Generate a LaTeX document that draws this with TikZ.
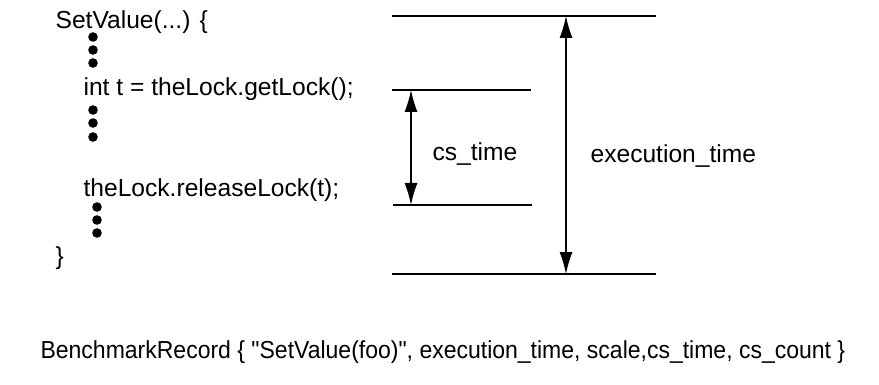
\documentclass[tikz,border=0pt]{standalone}
\usepackage{fontspec}
\setmainfont{Liberation Sans}
\usetikzlibrary{arrows.meta}
\tikzset{>={Latex[length=22pt,width=13pt]}}
\tikzset{code/.style={anchor=west,inner sep=0pt,font=\fontsize{24.6}{28}\selectfont}}

\begin{document}
\begin{tikzpicture}[x=1pt,y=-1pt,line width=1.2pt]
  \useasboundingbox (0,0) rectangle (879,385);
  % code lines
  \node[code] (setv) at (55,22) {SetValue(...) \{};
  \node[code] (getl) at (83,89) {int t = theLock.getLock();};
  \node[code] (rell) at (83,190) {theLock.releaseLock(t);};
  \node[code] (close) at (55,258) {\}};
  % dots
  \fill (93,37) circle (4.8) (93,50) circle (4.8) (93,63) circle (4.8);
  \fill (93,110) circle (4.8) (93,123) circle (4.8) (93,137) circle (4.8);
  \fill (97,207) circle (4.8) (97,220) circle (4.8) (97,233) circle (4.8);
  % time marks
  \coordinate (T1) at (392,16);  \coordinate (T2) at (656,16);
  \coordinate (G1) at (392,90);  \coordinate (G2) at (531,90);
  \coordinate (R1) at (393,205); \coordinate (R2) at (532,205);
  \coordinate (B1) at (392,274); \coordinate (B2) at (656,274);
  \draw (T1) -- (T2);
  \draw (G1) -- (G2);
  \draw (R1) -- (R2);
  \draw (B1) -- (B2);
  % spans
  \coordinate (cstop) at (411,90);  \coordinate (csbot) at (411,205);
  \coordinate (extop) at (566,16);  \coordinate (exbot) at (566,274);
  \draw[<->] (cstop) -- (csbot);
  \draw[<->] (extop) -- (exbot);
  \node[code] (cslbl) at (432,154) {cs\_time};
  \node[code] (exlbl) at (590,156) {execution\_time};
  % record
  \node[code,xscale=0.935] (rec) at (40,352) {BenchmarkRecord \{ \textquotedbl SetValue(foo)\textquotedbl, execution\_time, scale,cs\_time, cs\_count \}};
\end{tikzpicture}
\end{document}
